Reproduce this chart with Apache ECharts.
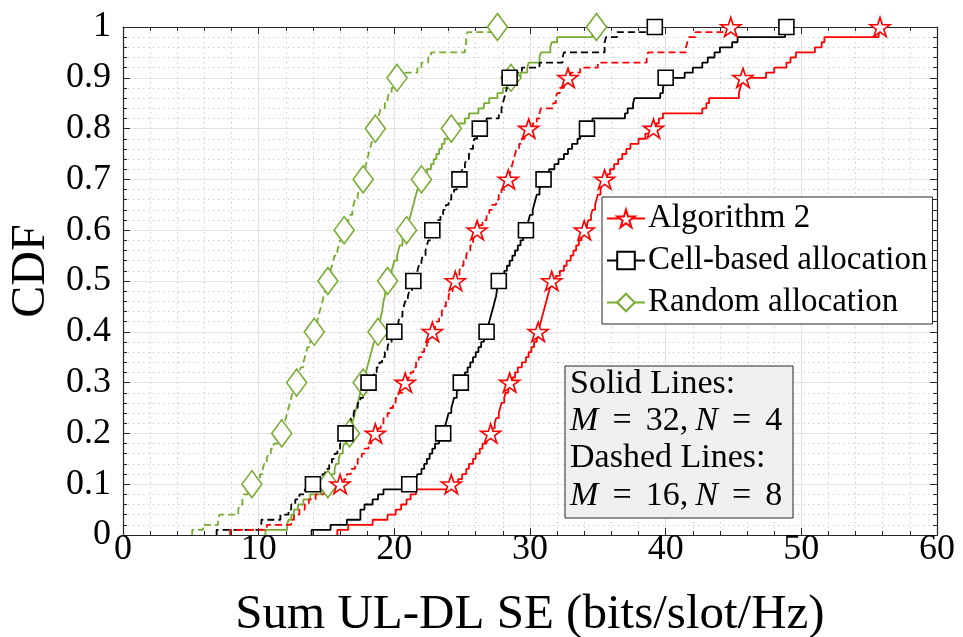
<!DOCTYPE html>
<html>
<head>
<meta charset="utf-8">
<script src="https://cdn.jsdelivr.net/npm/echarts@6/dist/echarts.min.js"></script>
<style>html,body{margin:0;padding:0;background:#fff;}#c{width:963px;height:637px;}</style>
</head>
<body>
<div id="c"></div>
<script>
// Sorted sample values (x positions of the CDF steps)
const alg2Solid = [15.8,16.6,18.4,19.5,20.1,20.5,20.9,21.2,21.6,24.2,
 24.7,25.0,25.3,25.5,25.8,26.0,26.3,26.5,26.8,27.1,
 27.2,27.4,27.5,27.7,27.8,27.9,28.1,28.2,28.4,28.5,
 28.7,28.9,29.1,29.4,29.7,29.9,30.1,30.3,30.5,30.6,
 30.7,30.8,30.9,31.0,31.1,31.2,31.3,31.4,31.5,31.6,
 31.9,32.2,32.5,32.7,33.0,33.2,33.4,33.6,33.8,34.0,
 34.2,34.3,34.5,34.6,34.8,34.9,35.0,35.2,35.3,35.5,
 35.7,35.9,36.2,36.5,36.8,37.1,37.4,38.0,38.5,39.1,
 39.3,39.5,39.8,42.7,43.0,43.2,45.4,45.5,45.6,45.7,
 47.4,48.0,48.9,49.2,49.6,51.0,51.5,51.7,55.7,55.8];
const cellSolid = [13.9,15.3,16.5,17.5,17.5,17.8,18.4,18.8,19.2,21.1,
 21.6,21.7,22.0,22.2,22.4,22.6,22.8,23.0,23.3,23.6,
 23.7,23.8,23.9,24.0,24.2,24.3,24.4,24.6,24.7,24.9,
 25.0,25.2,25.4,25.6,25.8,26.0,26.2,26.4,26.6,26.8,
 26.9,27.0,27.1,27.2,27.3,27.4,27.5,27.55,27.6,27.7,
 27.9,28.1,28.3,28.5,28.7,28.9,29.1,29.3,29.5,29.7,
 29.8,29.9,30.0,30.2,30.3,30.4,30.5,30.7,30.8,31.0,
 31.2,31.4,31.8,32.1,32.5,32.8,33.1,33.5,33.7,34.2,
 34.4,34.6,37.0,37.2,37.6,37.7,39.6,39.8,39.9,40.0,
 41.4,42.0,42.7,43.1,43.6,44.0,44.9,45.3,48.8,48.9];
const randSolid = [10.5,12.1,12.2,12.4,12.6,12.9,13.3,13.8,14.6,15.1,
 15.3,15.4,15.6,15.7,15.9,16.0,16.2,16.3,16.5,16.7,
 16.8,16.9,17.0,17.1,17.2,17.3,17.4,17.5,17.6,17.7,
 17.8,17.9,18.0,18.1,18.2,18.3,18.4,18.5,18.7,18.8,
 18.9,18.95,19.0,19.1,19.15,19.2,19.3,19.35,19.4,19.5,
 19.6,19.8,19.9,20.0,20.2,20.3,20.4,20.6,20.7,20.9,
 21.0,21.1,21.2,21.3,21.4,21.5,21.6,21.7,21.85,22.0,
 22.2,22.4,22.7,22.9,23.1,23.3,23.5,23.7,24.0,24.2,
 24.5,25.2,25.5,26.2,26.6,27.0,27.6,28.0,28.3,28.6,
 29.3,29.8,29.9,30.7,30.8,31.5,31.6,32.0,34.6,34.9];
const alg2Dashed = [7.9,10.6,12.4,12.6,13.0,13.4,13.7,14.2,14.8,16.0,
 16.3,16.5,16.8,17.1,17.3,17.6,17.8,18.1,18.3,18.6,
 18.8,19.0,19.2,19.5,19.7,19.9,20.1,20.3,20.6,20.8,
 21.0,21.2,21.4,21.6,21.8,22.0,22.2,22.4,22.6,22.8,
 23.0,23.1,23.3,23.5,23.6,23.8,24.0,24.1,24.3,24.5,
 24.6,24.8,24.9,25.1,25.3,25.4,25.6,25.8,25.9,26.1,
 26.3,26.5,26.8,27.0,27.2,27.5,27.7,27.9,28.2,28.4,
 28.5,28.6,28.7,28.8,28.9,29.0,29.2,29.4,29.6,29.9,
 30.2,30.5,30.7,30.8,31.7,31.9,32.0,32.2,32.5,32.8,
 33.0,33.7,35.0,38.6,38.7,41.5,41.6,41.7,42.2,44.8];
const cellDashed = [6.9,10.2,10.2,11.6,12.2,12.4,12.7,13.0,13.4,14.0,
 14.5,14.7,14.9,15.2,15.4,15.6,15.8,16.0,16.2,16.4,
 16.5,16.6,16.8,17.0,17.1,17.3,17.5,17.7,17.9,18.1,
 18.3,18.5,18.7,18.9,19.1,19.3,19.5,19.6,19.8,20.0,
 20.1,20.3,20.4,20.6,20.7,20.8,21.0,21.1,21.3,21.4,
 21.5,21.7,21.8,22.0,22.1,22.3,22.4,22.5,22.7,22.8,
 23.0,23.2,23.4,23.6,23.8,24.0,24.2,24.4,24.6,24.8,
 24.9,25.0,25.2,25.3,25.5,25.6,25.8,25.9,26.1,26.3,
 26.6,26.8,27.7,27.9,28.0,28.1,28.2,28.3,28.4,28.5,
 29.0,29.4,30.7,32.4,32.5,35.5,35.5,35.6,36.4,39.2];
const randDashed = [5.1,5.9,7.0,7.1,8.5,8.6,8.8,8.9,9.2,9.5,
 9.9,10.1,10.3,10.4,10.6,10.7,10.9,11.1,11.4,11.7,
 11.8,11.9,12.0,12.1,12.2,12.3,12.4,12.5,12.7,12.8,
 12.9,13.0,13.1,13.3,13.4,13.5,13.6,13.8,13.9,14.1,
 14.2,14.3,14.4,14.5,14.6,14.7,14.8,14.9,15.0,15.1,
 15.2,15.3,15.4,15.5,15.6,15.8,15.9,16.0,16.2,16.3,
 16.4,16.6,16.7,16.9,17.0,17.1,17.3,17.4,17.5,17.7,
 17.8,17.85,17.9,18.0,18.1,18.2,18.3,18.4,18.5,18.6,
 18.7,18.8,18.9,19.0,19.3,19.5,19.6,19.8,20.0,20.2,
 20.8,21.7,22.0,22.5,22.7,25.2,25.3,25.3,25.4,27.6];

const legendNames = ['Algorithm 2', 'Cell-based allocation', 'Random allocation'];
const xTicks = [0, 10, 20, 30, 40, 50, 60];
const yTicks = [0, 0.1, 0.2, 0.3, 0.4, 0.5, 0.6, 0.7, 0.8, 0.9, 1];
const noteTitles = ['Solid Lines:', 'Dashed Lines:'];
const noteParams = [['M', '32', 'N', '4'], ['M', '16', 'N', '8']];
const markerEvery = 10;

const FONT = '"Liberation Serif", "DejaVu Serif", serif';
const STAR = 'path://M0,-1L0.2245,-0.309L0.951,-0.309L0.3633,0.118L0.588,0.809L0,0.382L-0.588,0.809L-0.3633,0.118L-0.951,-0.309L-0.2245,-0.309Z';

function cdfData(samples) {
  const n = samples.length;
  const pts = [{ value: [samples[0], 0], symbol: 'none' }];
  samples.forEach((x, i) => {
    const y = (i + 1) / n;
    if ((i + 1) % markerEvery === 0) pts.push({ value: [x, y] });
    else pts.push({ value: [x, y], symbol: 'none' });
  });
  return pts;
}

function mk(name, samples, color, dashed, symbol, size) {
  return {
    name: name, type: 'line', step: 'end', data: cdfData(samples),
    xAxisIndex: 0, yAxisIndex: 0,
    symbol: symbol, symbolSize: size, showSymbol: true,
    lineStyle: { color: color, width: 1.8, type: dashed ? [7, 4] : 'solid' },
    itemStyle: { color: '#ffffff', borderColor: color, borderWidth: 1.6 },
    emphasis: { disabled: true },
    z: 3
  };
}

const RED = '#ff0000', BLACK = '#000000', GREEN = '#77ac30';

const series = [
  mk(legendNames[0], alg2Solid, RED, false, STAR, [20, 19]),
  mk(legendNames[1], cellSolid, BLACK, false, 'rect', 15),
  mk(legendNames[2], randSolid, GREEN, false, 'diamond', [20, 27]),
  mk(legendNames[2], randDashed, GREEN, true, 'diamond', [20, 27]),
  mk(legendNames[1], cellDashed, BLACK, true, 'rect', 15),
  mk(legendNames[0], alg2Dashed, RED, true, STAR, [20, 19])
];

const axisCol = '#262626';
function baseX(show, pos) {
  return {
    type: 'value', min: xTicks[0], max: xTicks[xTicks.length - 1], interval: 10, position: pos,
    axisLine: { show: true, onZero: false, lineStyle: { color: axisCol, width: 1.2 } },
    axisTick: { show: true, inside: true, length: 7, lineStyle: { color: axisCol, width: 1 } },
    minorTick: { show: true, splitNumber: 5, length: 4, lineStyle: { color: axisCol, width: 1 } },
    axisLabel: { show: show, fontFamily: FONT, fontSize: 36, color: '#000', margin: -3 },
    splitLine: { show: show, lineStyle: { color: '#e3e3e3', width: 1.2 } },
    minorSplitLine: { show: show, lineStyle: { color: '#cfcfcf', width: 1, type: [1.5, 3.5] } }
  };
}
function baseY(show, pos) {
  return {
    type: 'value', min: yTicks[0], max: yTicks[yTicks.length - 1], interval: 0.1, position: pos,
    axisLine: { show: true, onZero: false, lineStyle: { color: axisCol, width: 1.2 } },
    axisTick: { show: true, inside: true, length: 7, lineStyle: { color: axisCol, width: 1 } },
    minorTick: { show: true, splitNumber: 5, length: 4, lineStyle: { color: axisCol, width: 1 } },
    axisLabel: { show: show, fontFamily: FONT, fontSize: 36, color: '#000', margin: 12,
      formatter: v => (Math.round(v * 10) / 10).toString() },
    splitLine: { show: show, lineStyle: { color: '#e3e3e3', width: 1.2 } },
    minorSplitLine: { show: show, lineStyle: { color: '#cfcfcf', width: 1, type: [1.5, 3.5] } }
  };
}

const xMain = baseX(true, 'bottom');
xMain.name = 'Sum UL-DL SE (bits/slot/Hz)';
xMain.nameLocation = 'middle';
xMain.nameGap = 56;
xMain.nameTextStyle = { fontFamily: FONT, fontSize: 49, color: '#000' };
const yMain = baseY(true, 'left');
yMain.name = 'CDF';
yMain.nameLocation = 'middle';
yMain.nameGap = 64;
yMain.nameTextStyle = { fontFamily: FONT, fontSize: 48, color: '#000', padding: [0, 0, 0, 20] };

const noteX = 565, noteY = 366, noteW = 228, noteH = 152;
const FS = 34;
const rich = {
  i: { fontStyle: 'italic', fontFamily: FONT, fontSize: FS, fill: '#000' },
  n: { fontFamily: FONT, fontSize: FS, fill: '#000' }
};
const SP = '\u2004\u200a';
function mathLine(p) {
  return '{i|' + p[0] + '}{n|' + SP + '=' + SP + p[1] + ',\u2009}{i|' + p[2] + '}{n|' + SP + '=' + SP + p[3] + '}';
}
function noteText(y, content, isRich) {
  const st = { text: content, font: FS + 'px ' + FONT, fill: '#000', verticalAlign: 'middle' };
  if (isRich) st.rich = rich;
  return { type: 'text', x: noteX + 5, y: noteY + y, style: st, z: 11 };
}

const chart = echarts.init(document.getElementById('c'), null, { renderer: 'canvas' });
chart.setOption({
  animation: false,
  backgroundColor: '#ffffff',
  grid: { left: 123, right: 26, top: 27, bottom: 102, containLabel: false, outerBoundsMode: 'none' },
  xAxis: [xMain, baseX(false, 'top')],
  yAxis: [yMain, baseY(false, 'right')],
  legend: {
    data: legendNames, orient: 'vertical', left: 602, top: 197,
    backgroundColor: '#ffffff', borderColor: axisCol, borderWidth: 1,
    padding: [5, 5, 5, 4], itemGap: 9, itemWidth: 38, itemHeight: 22,
    textStyle: { fontFamily: FONT, fontSize: 33, color: '#000', padding: [0, 0, 0, -2] },
    selectedMode: false
  },
  graphic: [
    { type: 'rect', shape: { x: noteX, y: noteY, width: noteW, height: noteH },
      style: { fill: '#f0f0f0', stroke: axisCol, lineWidth: 1 }, z: 10 },
    noteText(18, noteTitles[0], false),
    noteText(55, mathLine(noteParams[0]), true),
    noteText(92, noteTitles[1], false),
    noteText(130, mathLine(noteParams[1]), true)
  ],
  series: series
});
</script>
</body>
</html>
